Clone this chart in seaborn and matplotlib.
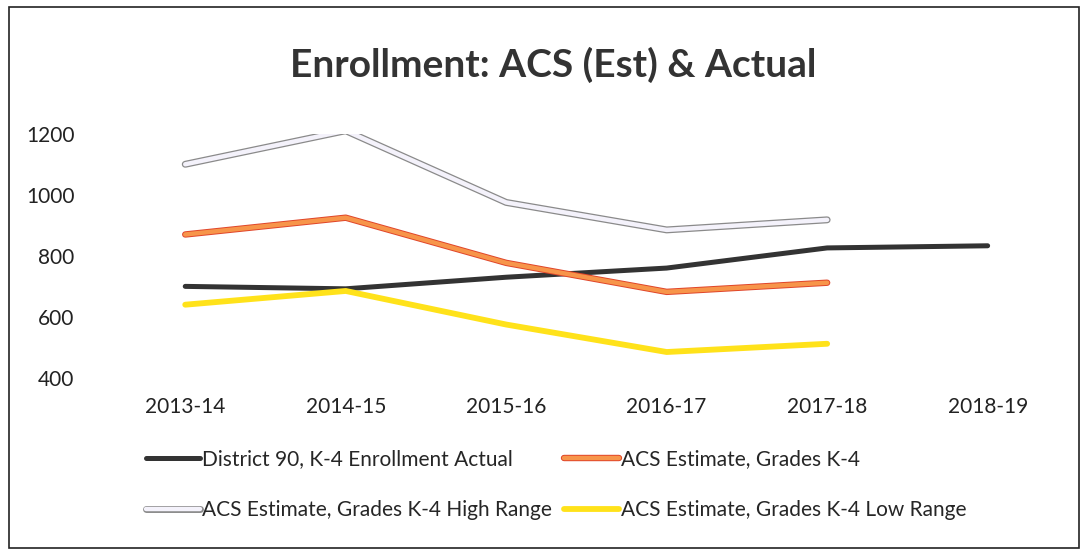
import pandas as pd
import matplotlib.pyplot as plt
import matplotlib.patheffects as pe
from matplotlib.patches import Rectangle
import seaborn as sns

years = ["2013-14", "2014-15", "2015-16", "2016-17", "2017-18", "2018-19"]
actual = [700, 692, 730, 760, 826, 833]
acs_est = [870, 925, 777, 682, 712]
acs_high = [1100, 1210, 975, 885, 918]
acs_low = [640, 685, 575, 485, 512]

sns.set_theme(style="white")
plt.rcParams["font.family"] = ["Lato", "DejaVu Sans"]

fig = plt.figure(figsize=(10.88, 5.55), dpi=100)
ax = fig.add_axes([0.0965, 0.319, 0.885, 0.44])

# actual first so the category order holds all six years
sns.lineplot(x=years, y=actual, ax=ax, color="#333333", lw=3.6, sort=False,
             label="District 90, K-4 Enrollment Actual", solid_capstyle="round")
sns.lineplot(x=years[:5], y=acs_high, ax=ax, color="#f4f2fb", lw=3.2, sort=False,
             label="ACS Estimate, Grades K-4 High Range", solid_capstyle="round")
sns.lineplot(x=years[:5], y=acs_est, ax=ax, color="#f7954a", lw=3.2, sort=False,
             label="ACS Estimate, Grades K-4", solid_capstyle="round")
sns.lineplot(x=years[:5], y=acs_low, ax=ax, color="#ffe21a", lw=4.2, sort=False,
             label="ACS Estimate, Grades K-4 Low Range", solid_capstyle="round")

lines = ax.get_lines()
lines[1].set_path_effects([pe.Stroke(linewidth=5.0, foreground="#8a8a8a"), pe.Normal()])
lines[2].set_path_effects([pe.Stroke(linewidth=4.6, foreground="#e0452a"), pe.Normal()])

ax.set_xlim(-0.5, 5.5)
ax.set_ylim(400, 1200)
ax.set_yticks([400, 600, 800, 1000, 1200])
ax.tick_params(axis="both", labelsize=15, colors="#222222", length=0)
ax.tick_params(axis="y", pad=22)
ax.tick_params(axis="x", pad=14)
sns.despine(ax=ax, left=True, bottom=True)
ax.grid(False)

ax.get_legend().remove()
h, l = ax.get_legend_handles_labels()
fig.legend(h, l, loc="upper center", bbox_to_anchor=(0.511, 0.21), ncol=2,
           frameon=False, fontsize=15, handlelength=2.6, handletextpad=0.1,
           columnspacing=0.6, labelspacing=1.5, borderpad=0)

fig.suptitle("Enrollment: ACS (Est) & Actual", fontsize=28, fontweight="bold",
             color="#333333", y=0.915, x=0.508)

fig.patches.append(Rectangle((0.008, 0.012), 0.984, 0.975, transform=fig.transFigure,
                             fill=False, edgecolor="#222222", lw=1.2))

plt.savefig("out.png", dpi=100)
